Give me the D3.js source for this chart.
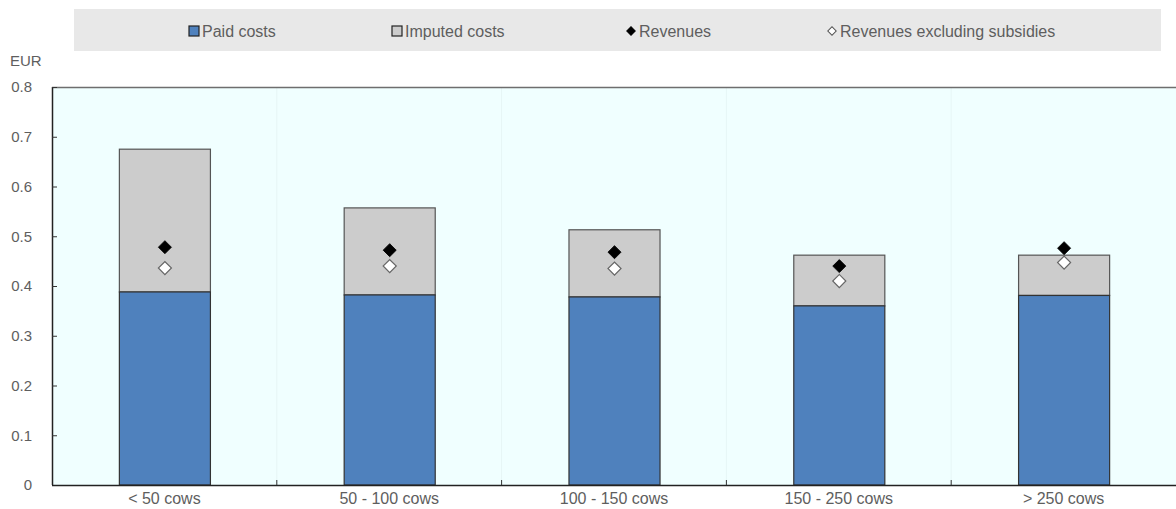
<!DOCTYPE html>
<html><head><meta charset="utf-8">
<script src="https://cdn.jsdelivr.net/npm/d3@7"></script>
<style>
html,body{margin:0;padding:0;background:#fff;}
svg{display:block;font-family:"Liberation Sans",Arial,sans-serif;}
</style></head>
<body>
<svg id="chart" width="1176" height="509"></svg>
<script>
const categories = ["< 50 cows", "50 - 100 cows", "100 - 150 cows", "150 - 250 cows", "> 250 cows"];
const paidCosts = [0.388, 0.382, 0.378, 0.360, 0.381];
const imputedCosts = [0.287, 0.175, 0.135, 0.102, 0.081];
const revenues = [0.478, 0.472, 0.468, 0.440, 0.476];
const revenuesExclSubsidies = [0.436, 0.440, 0.435, 0.410, 0.447];
const yTicks = [0, 0.1, 0.2, 0.3, 0.4, 0.5, 0.6, 0.7, 0.8];
const legendLabels = ["Paid costs", "Imputed costs", "Revenues", "Revenues excluding subsidies"];

const svg = d3.select("#chart");
const L = 52, R = 1176, T = 87, B = 485;
const textColor = "#5e5e5e";

const x = d3.scaleBand().domain(categories).range([L, R]).paddingInner(0.595).paddingOuter(0.2975);
const xb = d3.scaleBand().domain(categories).range([L, R]);
const y = d3.scaleLinear().domain([0, 0.8]).range([B, T]);

// plot background
svg.append("rect").attr("x", L).attr("y", T).attr("width", R - L).attr("height", B - T).attr("fill", "#f0ffff");

// vertical faint gridlines at category boundaries
svg.append("g").selectAll("line").data(categories.slice(1)).join("line")
  .attr("x1", d => xb(d)).attr("x2", d => xb(d)).attr("y1", T).attr("y2", B)
  .attr("stroke", "#e6f6f6").attr("stroke-width", 1);

// top border
svg.append("line").attr("x1", L).attr("x2", R).attr("y1", T + 0.5).attr("y2", T + 0.5)
  .attr("stroke", "#6e6e6e").attr("stroke-width", 1.5);

// stacked bars
const stacks = categories.map((c, i) => ({c, p: paidCosts[i], im: imputedCosts[i]}));
const g = svg.append("g");
g.selectAll("rect.imp").data(stacks).join("rect").attr("class", "imp")
  .attr("x", d => x(d.c) + 0.5).attr("width", x.bandwidth())
  .attr("y", d => y(d.p + d.im)).attr("height", d => y(d.p) - y(d.p + d.im))
  .attr("fill", "#cccccc").attr("stroke", "#555").attr("stroke-width", 1.2);
g.selectAll("rect.paid").data(stacks).join("rect").attr("class", "paid")
  .attr("x", d => x(d.c) + 0.5).attr("width", x.bandwidth())
  .attr("y", d => y(d.p)).attr("height", d => B - y(d.p))
  .attr("fill", "#4f81bd").attr("stroke", "#333").attr("stroke-width", 1.2);

// diamonds
const sq = d3.symbol().type(d3.symbolSquare).size(85);
svg.append("g").selectAll("path").data(categories).join("path")
  .attr("d", sq)
  .attr("transform", (d, i) => `translate(${x(d) + x.bandwidth() / 2 + 0.5},${y(revenuesExclSubsidies[i])}) rotate(45)`)
  .attr("fill", "#fff").attr("stroke", "#666").attr("stroke-width", 1.2);
svg.append("g").selectAll("path").data(categories).join("path")
  .attr("d", sq)
  .attr("transform", (d, i) => `translate(${x(d) + x.bandwidth() / 2 + 0.5},${y(revenues[i])}) rotate(45)`)
  .attr("fill", "#000").attr("stroke", "#000").attr("stroke-width", 0.8);

// axes
const yAxis = d3.axisLeft(y).tickValues(yTicks).tickSize(-5).tickPadding(20)
  .tickFormat(d => d === 0 ? "0" : d3.format(".1f")(d));
const ya = svg.append("g").attr("transform", `translate(${L},0)`).call(yAxis);
ya.select(".domain").attr("stroke", "#222").attr("stroke-width", 1.5).attr("d", `M0.5,${T}V${B}`);
ya.selectAll(".tick line").attr("stroke", "#333");
ya.selectAll(".tick text").attr("fill", textColor).attr("font-size", 15).attr("font-family", "Liberation Sans, Arial, sans-serif");

const xAxis = d3.axisBottom(xb).tickSize(0).tickPadding(8);
const xa = svg.append("g").attr("transform", `translate(0,${B})`).call(xAxis);
xa.select(".domain").attr("stroke", "#222").attr("stroke-width", 1.5).attr("d", `M${L},0.5H${R}`);
xa.selectAll(".tick text").attr("fill", textColor).attr("font-size", 16).attr("font-family", "Liberation Sans, Arial, sans-serif");
// boundary ticks
svg.append("g").selectAll("line").data(categories.slice(1)).join("line")
  .attr("x1", d => xb(d)).attr("x2", d => xb(d)).attr("y1", B).attr("y2", B - 5)
  .attr("stroke", "#333");

// EUR label
svg.append("text").attr("x", 10).attr("y", 66).text("EUR")
  .attr("fill", textColor).attr("font-size", 15);

// legend
svg.append("rect").attr("x", 74).attr("y", 9).attr("width", 1087).attr("height", 42).attr("fill", "#e8e8e8");
const legendX = [188, 391, 625, 826];
const lg = svg.append("g").selectAll("g").data(legendLabels).join("g")
  .attr("transform", (d, i) => `translate(${legendX[i]},31)`);
lg.append("text").attr("x", 14).attr("y", 6).text(d => d).attr("fill", textColor).attr("font-size", 16);
lg.filter((d, i) => i < 2).append("rect")
  .attr("x", 1).attr("y", -5).attr("width", 10).attr("height", 10)
  .attr("fill", (d, i) => i === 0 ? "#4f81bd" : "#cccccc").attr("stroke", "#222").attr("stroke-width", 1.2);
lg.filter((d, i) => i >= 2).append("path")
  .attr("d", d3.symbol().type(d3.symbolSquare).size(36))
  .attr("transform", "translate(6,0) rotate(45)")
  .attr("fill", (d, i) => i === 0 ? "#000" : "#fff").attr("stroke", (d, i) => i === 0 ? "#000" : "#555").attr("stroke-width", 1);
</script>
</body></html>
